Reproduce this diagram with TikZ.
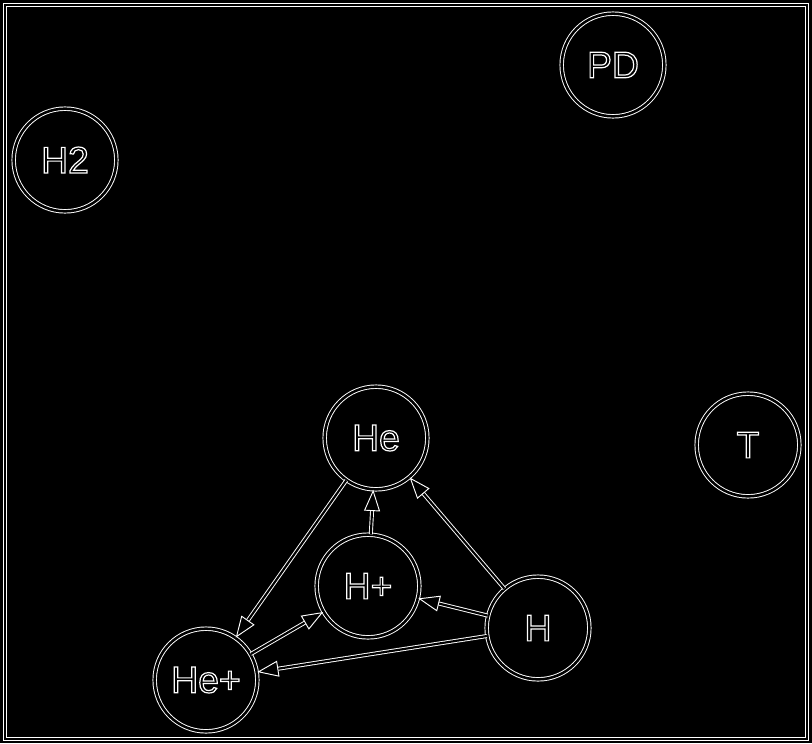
\documentclass[tikz,border=0pt]{standalone}
\usepackage{fontspec}
\setmainfont{Liberation Sans}
\usetikzlibrary{positioning}
\usetikzlibrary{arrows.meta}
\newcommand{\hollow}[1]{\special{pdf:literal direct 1 Tr 0.9 w 1 G}#1\special{pdf:literal direct 0 Tr}}

\begin{document}
\begin{tikzpicture}[x=0.75pt,y=-0.75pt]
    \tikzset{vertex/.style={shape=circle,draw=white,double=black,line width=0.7pt,double distance=1.9pt,minimum size=77pt,inner sep=0pt,text=white,font=\fontsize{28}{30}\selectfont}}
    \tikzset{edge/.style={draw=white,double=black,line width=0.7pt,double distance=1.6pt,-{Triangle[open,length=16pt,width=12pt]}}}
    \fill[black] (0,0) rectangle (812,743);
    \draw[white,double=black,line width=0.7pt,double distance=1.9pt] (5,5) rectangle (807,739);

    \node[vertex] (htwo) at (65,160) {\hollow{H2}};
    \node[vertex] (pd) at (613,65) {\hollow{PD}};
    \node[vertex] (t) at (748,445) {\hollow{T}};
    \node[vertex] (he) at (376,438) {\hollow{He}};
    \node[vertex] (hp) at (368,586) {\hollow{H+}};
    \node[vertex] (h) at (538,628) {\hollow{H}};
    \node[vertex] (hep) at (206,680) {\hollow{He+}};

    \draw[edge] (he) to (hep);
    \draw[edge] (hp) to (he);
    \draw[edge] (h) to (he);
    \draw[edge] (hep) to (hp);
    \draw[edge] (h) to (hp);
    \draw[edge] (h) to (hep);
\end{tikzpicture}
\end{document}
